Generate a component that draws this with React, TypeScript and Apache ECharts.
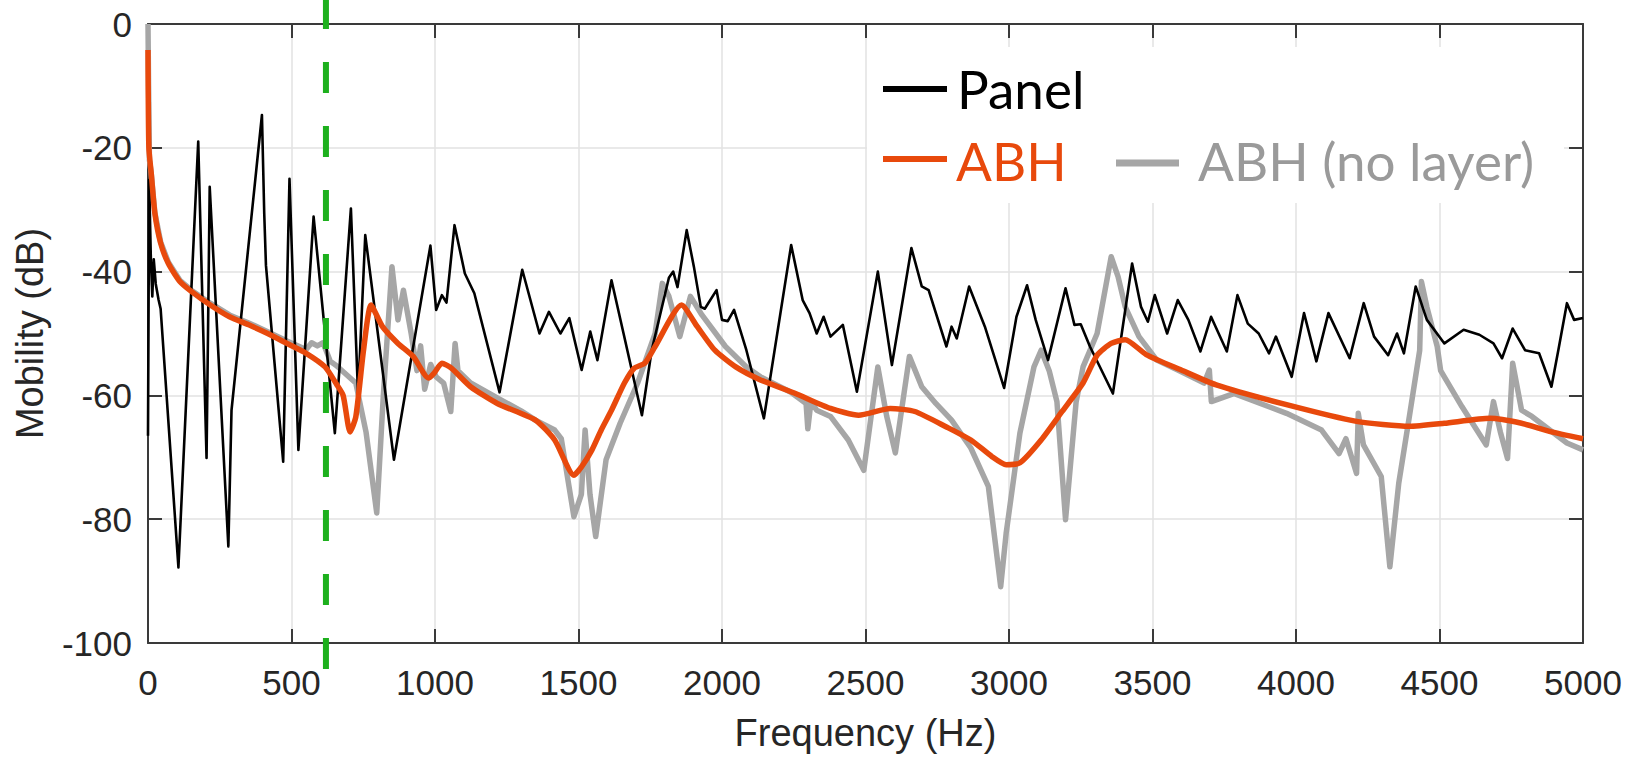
import React, { useEffect, useRef } from "react";
import * as echarts from "echarts";

// ---------- data ----------
const xTickValues = [0, 500, 1000, 1500, 2000, 2500, 3000, 3500, 4000, 4500, 5000];
const yTickValues = [0, -20, -40, -60, -80, -100];
const cutoffFreq = 620;

const panelFreq = [
  0, 4, 10, 15, 20, 27, 37, 44, 106, 175, 204, 215, 280, 291, 397, 405, 411, 471, 493, 524, 577, 651, 707, 732, 757,
  857, 984, 1004, 1024, 1040, 1068, 1104, 1137, 1225, 1304, 1364, 1397, 1437, 1468, 1511, 1541, 1566, 1615, 1657,
  1721, 1755, 1815, 1830, 1845, 1877, 1902, 1926, 1940, 1981, 2000, 2020, 2042, 2085, 2146, 2241, 2281, 2305, 2330,
  2354, 2378, 2421, 2470, 2543, 2592, 2660, 2696, 2720, 2782, 2800, 2818, 2861, 2916, 2983, 3026, 3063, 3093, 3136,
  3197, 3228, 3250, 3282, 3362, 3429, 3460, 3484, 3508, 3551, 3588, 3625, 3667, 3704, 3759, 3796, 3832, 3870, 3906,
  3930, 3985, 4028, 4071, 4113, 4187, 4236, 4272, 4321, 4352, 4376, 4417, 4456, 4517, 4584, 4639, 4688, 4718, 4755,
  4798, 4847, 4890, 4914, 4944, 4969, 5000,
];
const panelDb = [
  -66.5, -25.2, -38, -44, -38, -42, -44.6, -46, -87.8, -19.0, -70.1, -26.3, -84.4, -62.4, -14.7, -30.6, -39, -70.7,
  -25.0, -68.8, -31.1, -66.1, -29.8, -60, -34.1, -70.4, -35.8, -46.2, -43.8, -45, -32.5, -40.3, -43.5, -59.5, -39.7,
  -50, -46.5, -50, -47.5, -55.9, -49.7, -54.3, -41.4, -50, -63.2, -52.7, -41, -40, -42.5, -33.3, -39.2, -45.7, -46,
  -43, -47.8, -48, -46.2, -52.7, -63.7, -35.7, -44.6, -46.7, -50, -47.3, -50.5, -48.6, -59.4, -40, -55.1, -36.2,
  -42.4, -43, -52.1, -48.9, -50.8, -42.4, -48.9, -58.8, -47.3, -42.2, -47.8, -54.3, -42.7, -48.6, -48.5, -52.1,
  -59.7, -38.7, -45.7, -48.1, -43.8, -50, -44.6, -47.8, -52.9, -47.3, -52.9, -43.8, -48.4, -50, -53.2, -50.5, -57,
  -46.7, -54.5, -46.7, -54, -45.1, -50.5, -53.5, -50, -53.2, -42.4, -47.8, -51.6, -49.4, -50.2, -51.6, -54, -49.2,
  -52.7, -53.2, -58.6, -52.7, -45.1, -47.8, -47.5,
];

const abhFreq = [
  0, 3, 11, 24, 44, 71, 111, 151, 217, 284, 351, 417, 484, 551, 617, 657, 680, 704, 724, 751, 777, 817, 871, 924,
  977, 997, 1024, 1057, 1124, 1217, 1350, 1417, 1484, 1511, 1547, 1580, 1615, 1660, 1694, 1731, 1767, 1859, 1914,
  1975, 2048, 2134, 2256, 2378, 2476, 2586, 2672, 2782, 2867, 2941, 2990, 3038, 3112, 3185, 3258, 3307, 3356, 3405,
  3478, 3600, 3722, 3967, 4211, 4395, 4517, 4676, 4786, 4883, 5000,
];
const abhDb = [
  -4.2, -20, -24, -30.6, -35.4, -38.7, -41.6, -43.2, -45.4, -47.3, -48.6, -50, -51.6, -53.2, -55.4, -58.2, -60,
  -65.9, -63.5, -52.7, -45.4, -48.9, -51.6, -53.7, -57.2, -56.4, -54.8, -55.6, -58.6, -61.3, -64, -67.2, -72.9,
  -71.5, -68.8, -65.5, -62.4, -58, -55.6, -54.8, -52.1, -45.4, -48.9, -52.7, -55.4, -57.5, -59.7, -62.1, -63.2,
  -62.1, -62.6, -65.1, -67.2, -69.9, -71.2, -70.9, -67.2, -62.6, -58, -53.5, -51.6, -51, -53.4, -55.9, -58.3,
  -61.5, -64.2, -65, -64.5, -63.7, -64.5, -65.8, -67,
];

const noLayerFreq = [
  0, 2, 5, 11, 24, 44, 71, 111, 151, 217, 284, 351, 417, 484, 551, 570, 590, 610, 635, 657, 724, 760, 797, 820, 850,
  871, 890, 917, 937, 950, 964, 985, 1004, 1030, 1055, 1070, 1080, 1124, 1217, 1300, 1350, 1417, 1440, 1484, 1510,
  1523, 1540, 1560, 1596, 1645, 1706, 1767, 1792, 1815, 1853, 1890, 1930, 2012, 2085, 2134, 2240, 2293, 2299, 2310,
  2330, 2378, 2440, 2494, 2543, 2574, 2604, 2653, 2696, 2745, 2800, 2867, 2928, 2971, 2990, 3038, 3087, 3112, 3140,
  3167, 3197, 3234, 3258, 3307, 3356, 3380, 3405, 3453, 3515, 3588, 3680, 3698, 3705, 3783, 3967, 4089, 4150, 4174,
  4211, 4217, 4235, 4297, 4327, 4358, 4395, 4431, 4437, 4456, 4492, 4504, 4578, 4663, 4688, 4712, 4737, 4755, 4786,
  4822, 4944, 5000,
];
const noLayerDb = [
  0, -10, -22, -24, -30.5, -35.2, -38.5, -41.4, -43, -45.1, -47, -48.3, -49.7, -51.2, -52.6, -51.5, -52, -51.5,
  -54.5, -55.2, -58, -66, -79, -60, -39.2, -47.8, -43, -50, -56, -52, -59, -55, -57, -58, -62.6, -51.6, -56, -58,
  -60.4, -62.5, -64, -65.6, -67, -79.6, -76, -65.6, -76, -82.8, -70.4, -64.5, -58, -50, -41.9, -44, -50.5, -44, -47,
  -52.1, -55.4, -57, -59.5, -61.3, -65.4, -61, -62.4, -63.4, -67.2, -72.1, -55.4, -63.4, -69.3, -53.7, -58.6, -61.3,
  -64, -68.5, -74.7, -90.9, -82.3, -66.1, -55.4, -52.7, -56, -61, -80.1, -61, -55.4, -50, -37.6, -40.8, -45.7,
  -50.5, -54.3, -55.9, -58, -55.9, -61, -59.7, -62.9, -65.6, -69.4, -67, -72.6, -62.9, -68, -73.1, -87.7, -74.2,
  -63.4, -52.7, -41.6, -45.7, -52.1, -56, -61.8, -68, -61, -65.9, -70.2, -54.8, -62.4, -63.4, -67.7, -68.8,
];

const legendNames = ["Panel", "ABH", "ABH (no layer)"];
const colors = { panel: "#000000", abh: "#E8490C", noLayer: "#A6A6A6", noLayerText: "#9A9A9A", cutoff: "#1DB01D" };

const zip = (f: number[], d: number[]) => f.map((v, i) => [v, d[i]]);

export default function App() {
  const ref = useRef<HTMLDivElement>(null);

  useEffect(() => {
    if (!ref.current) return;
    const chart = echarts.init(ref.current, null, { renderer: "svg" });
    const axisColor = "#3a3a3a";
    const labelColor = "#262626";
    const font = "'Liberation Sans', Arial, sans-serif";
    const legendFont = "Lato, 'Open Sans', sans-serif";

    const legendGraphics = [
      { id: "lgBox", type: "rect", z: 5, shape: { x: 867, y: 47, width: 697, height: 156 }, style: { fill: "#ffffff" } },
      { id: "lgL1", type: "line", z: 6, shape: { x1: 883, y1: 89, x2: 947, y2: 89 }, style: { stroke: colors.panel, lineWidth: 6 } },
      { id: "lgT1", type: "text", z: 6, x: 957, y: 88, style: { text: legendNames[0], fill: colors.panel, font: `53px ${legendFont}`, verticalAlign: "middle" } },
      { id: "lgL2", type: "line", z: 6, shape: { x1: 883, y1: 159, x2: 947, y2: 159 }, style: { stroke: colors.abh, lineWidth: 6 } },
      { id: "lgT2", type: "text", z: 6, x: 956, y: 160, style: { text: legendNames[1], fill: colors.abh, font: `53px ${legendFont}`, verticalAlign: "middle" } },
      { id: "lgL3", type: "line", z: 6, shape: { x1: 1116, y1: 163, x2: 1179, y2: 163 }, style: { stroke: colors.noLayer, lineWidth: 7 } },
      { id: "lgT3", type: "text", z: 6, x: 1198, y: 160, style: { text: legendNames[2], fill: colors.noLayerText, font: `53px ${legendFont}`, verticalAlign: "middle" } },
    ];

    const xBase = {
      type: "value",
      min: xTickValues[0],
      max: xTickValues[xTickValues.length - 1],
      interval: 500,
    };
    const yBase = {
      type: "value",
      min: yTickValues[yTickValues.length - 1],
      max: yTickValues[0],
      interval: 20,
    };

    chart.setOption({
      animation: false,
      backgroundColor: "#ffffff",
      grid: { left: 148, top: 24, width: 1435, height: 619, containLabel: false },
      xAxis: [
        {
          ...xBase,
          position: "bottom",
          name: "Frequency (Hz)",
          nameLocation: "middle",
          nameGap: 71,
          nameTextStyle: { fontFamily: font, fontSize: 38, color: labelColor },
          axisLine: { show: true, onZero: false, lineStyle: { color: axisColor, width: 2 } },
          axisTick: { show: true, inside: true, length: 14, lineStyle: { color: axisColor, width: 2 } },
          axisLabel: { show: true, margin: 22, fontFamily: font, fontSize: 35, color: labelColor, formatter: (v: number) => String(v) },
          splitLine: { show: true, lineStyle: { color: "#E2E2E2", width: 1.5 } },
        },
        {
          ...xBase,
          position: "top",
          axisLine: { show: true, onZero: false, lineStyle: { color: axisColor, width: 2 } },
          axisTick: { show: true, inside: true, length: 14, lineStyle: { color: axisColor, width: 2 } },
          axisLabel: { show: false },
          splitLine: { show: false },
        },
      ],
      yAxis: [
        {
          ...yBase,
          position: "left",
          name: "Mobility (dB)",
          nameLocation: "middle",
          nameGap: 99,
          nameTextStyle: { fontFamily: font, fontSize: 38, color: labelColor },
          axisLine: { show: true, onZero: false, lineStyle: { color: axisColor, width: 2 } },
          axisTick: { show: true, inside: true, length: 14, lineStyle: { color: axisColor, width: 2 } },
          axisLabel: { show: true, margin: 16, fontFamily: font, fontSize: 35, color: labelColor, formatter: (v: number) => String(v) },
          splitLine: { show: true, lineStyle: { color: "#E2E2E2", width: 1.5 } },
        },
        {
          ...yBase,
          position: "right",
          axisLine: { show: true, onZero: false, lineStyle: { color: axisColor, width: 2 } },
          axisTick: { show: true, inside: true, length: 14, lineStyle: { color: axisColor, width: 2 } },
          axisLabel: { show: false },
          splitLine: { show: false },
        },
      ],
      series: [
        {
          name: legendNames[2],
          type: "line",
          data: zip(noLayerFreq, noLayerDb),
          showSymbol: false,
          symbol: "none",
          lineStyle: { color: colors.noLayer, width: 5.5, join: "round" },
          z: 2,
        },
        {
          name: legendNames[0],
          type: "line",
          data: zip(panelFreq, panelDb),
          showSymbol: false,
          symbol: "none",
          lineStyle: { color: colors.panel, width: 2.6, join: "round" },
          z: 3,
        },
        {
          name: legendNames[1],
          type: "line",
          data: zip(abhFreq, abhDb),
          showSymbol: false,
          symbol: "none",
          smooth: 0.2,
          lineStyle: { color: colors.abh, width: 5.5, join: "round" },
          z: 4,
        },
      ],
      graphic: legendGraphics,
    });

    const cx = chart.convertToPixel({ xAxisIndex: 0 }, cutoffFreq) as number;
    chart.setOption({
      graphic: [
        ...legendGraphics,
        {
          id: "cutoff",
          type: "line",
          z: 7,
          shape: { x1: cx, y1: -2, x2: cx, y2: 669 },
          style: { stroke: colors.cutoff, lineWidth: 6, lineDash: [31, 33] },
        },
      ],
    });

    return () => chart.dispose();
  }, []);

  return <div ref={ref} style={{ position: "absolute", left: 0, top: 0, width: 1626, height: 769 }} />;
}
